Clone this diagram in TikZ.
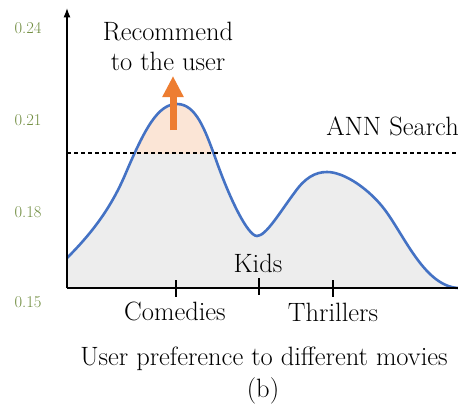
\documentclass[tikz,border=0pt]{standalone}
\usetikzlibrary{arrows.meta,positioning}
\definecolor{curveblue}{HTML}{4472C4}
\definecolor{recorange}{HTML}{ED7D31}
\definecolor{peakfill}{HTML}{FBE5D6}
\definecolor{areafill}{HTML}{EDEDED}
\definecolor{ticklab}{HTML}{6E8B3D}
\newcommand\densitycurve{(67,258) .. controls (90,235) and (110,210) .. (125,175)
  .. controls (145,128) and (158,104) .. (177,104)
  .. controls (196,104) and (205,130) .. (215,157)
  .. controls (230,200) and (248,236) .. (257,236)
  .. controls (266,236) and (280,212) .. (295,192)
  .. controls (305,178) and (315,172) .. (327,172)
  .. controls (345,172) and (370,190) .. (385,210)
  .. controls (405,237) and (425,286) .. (458,288)}

\begin{document}
\begin{tikzpicture}[x=1pt,y=-1pt,>=Latex,
lab/.style={font=\fontsize{26.5}{30}\selectfont,inner sep=0pt},
ylab/.style={font=\fontsize{16.5}{18}\selectfont,text=ticklab,inner sep=0pt},
axis/.style={line width=1.4pt},
tickmark/.style={line width=1.2pt},
rec/.style={line width=7pt,recorange,-{Triangle[width=20pt,length=21pt]}}]
\useasboundingbox (0,0) rectangle (458,407);
% filled areas under the preference curve
\fill[areafill] \densitycurve -- (458,288) -- (67,288) -- cycle;
\begin{scope}
\clip (67,0) rectangle (458,153);
\fill[peakfill] \densitycurve -- cycle;
\end{scope}
\draw[curveblue,line width=2.6pt] \densitycurve;
% axes
\coordinate (origin) at (67,288);
\coordinate (ytop) at (67,8);
\coordinate (xend) at (458,288);
\draw[axis,->] (origin) -- (ytop);
\draw[axis] (origin) -- (xend);
% y labels
\node[ylab,anchor=base] (y24) at (28,33) {0.24};
\node[ylab,anchor=base] (y21) at (28,125) {0.21};
\node[ylab,anchor=base] (y18) at (28,217) {0.18};
\node[ylab,anchor=base] (y15) at (28,307) {0.15};
% threshold
\coordinate (annL) at (67,153);
\coordinate (annR) at (458,153);
\draw[line width=1.2pt,dash pattern=on 4pt off 3pt] (annL) -- (annR);
\node[lab,anchor=base east] (ann) at (459,135) {ANN Search};
% x ticks
\coordinate (comT) at (176,280); \coordinate (comB) at (176,297);
\coordinate (kidT) at (259,278); \coordinate (kidB) at (259,295);
\coordinate (thrT) at (333,280); \coordinate (thrB) at (333,297);
\draw[tickmark] (comT) -- (comB);
\draw[tickmark] (kidT) -- (kidB);
\draw[tickmark] (thrT) -- (thrB);
\node[lab,anchor=base] (com) at (175,320) {Comedies};
\node[lab,anchor=base] (kid) at (258,272) {Kids};
\node[lab,anchor=base] (thr) at (333,321) {Thrillers};
\node[lab,anchor=base] (xtitle) at (264,365) {User preference to different movies};
\node[lab,anchor=base] (sub) at (263,397) {(b)};
% recommendation
\node[lab,anchor=base] (rec1) at (168,40) {Recommend};
\node[lab,anchor=base] (rec2) at (168,70) {to the user};
\coordinate (recS) at (173,130);
\coordinate (recE) at (173,76);
\draw[rec] (recS) -- (recE);
\end{tikzpicture}
\end{document}
